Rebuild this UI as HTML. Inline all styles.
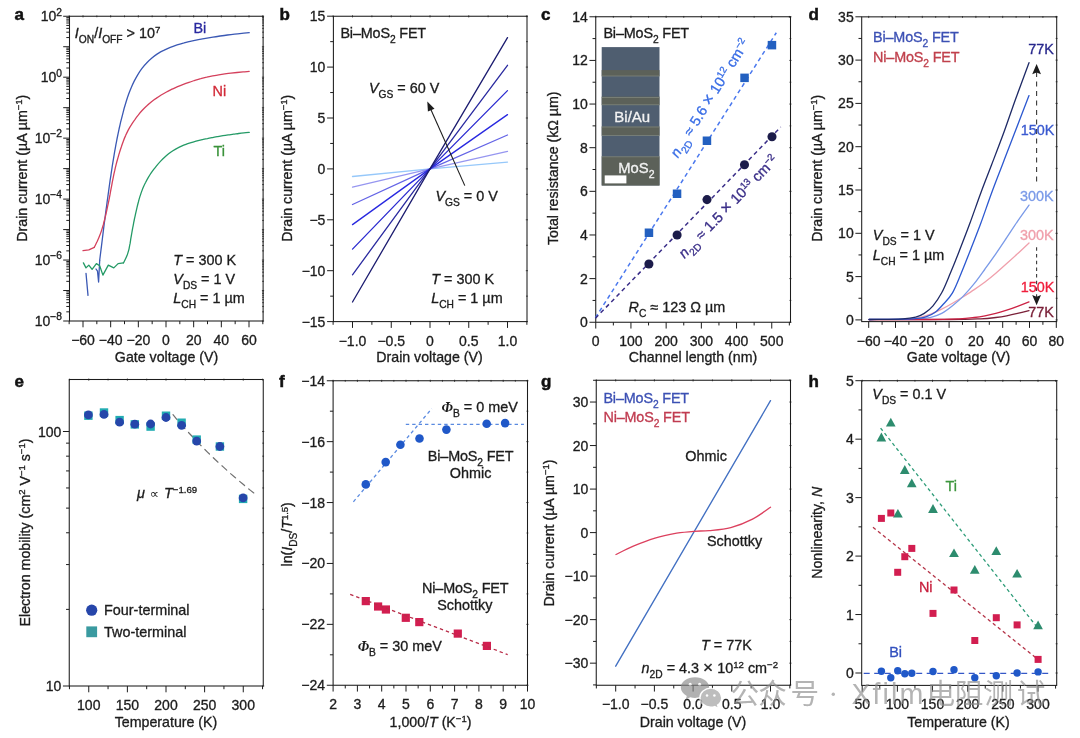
<!DOCTYPE html>
<html><head><meta charset="utf-8"><title>Figure</title>
<style>html,body{margin:0;padding:0;background:#fff;}svg{display:block;font-family:"Liberation Sans",sans-serif;will-change:transform;}</style>
</head><body>
<svg width="1080" height="738" viewBox="0 0 1080 738">
<rect width="1080" height="738" fill="#fff"/>
<g id="pa">
<rect x="69.50" y="16.25" width="193.60" height="304.75" fill="none" stroke="#1c1c1c" stroke-width="1.05"/>
<path d="M83.00 321.00v6.3M110.67 321.00v6.3M138.33 321.00v6.3M166.00 321.00v6.3M193.67 321.00v6.3M221.33 321.00v6.3M249.00 321.00v6.3M69.17 321.00v3.2M96.84 321.00v3.2M124.50 321.00v3.2M152.17 321.00v3.2M179.83 321.00v3.2M207.50 321.00v3.2M235.16 321.00v3.2M262.83 321.00v3.2" stroke="#1c1c1c" stroke-width="1" fill="none"/>
<path d="M83.00 15.25v2.2M110.67 15.25v2.2M138.33 15.25v2.2M166.00 15.25v2.2M193.67 15.25v2.2M221.33 15.25v2.2M249.00 15.25v2.2M69.17 15.45v1.8M96.84 15.45v1.8M124.50 15.45v1.8M152.17 15.45v1.8M179.83 15.45v1.8M207.50 15.45v1.8M235.16 15.45v1.8M262.83 15.45v1.8" stroke="#1c1c1c" stroke-width="0.75" fill="none"/>
<text x="83.00" y="345.00" font-size="14.0" text-anchor="middle" fill="#1c1c1c" stroke="#1c1c1c" stroke-width="0.32"><tspan>−60</tspan></text>
<text x="110.67" y="345.00" font-size="14.0" text-anchor="middle" fill="#1c1c1c" stroke="#1c1c1c" stroke-width="0.32"><tspan>−40</tspan></text>
<text x="138.33" y="345.00" font-size="14.0" text-anchor="middle" fill="#1c1c1c" stroke="#1c1c1c" stroke-width="0.32"><tspan>−20</tspan></text>
<text x="166.00" y="345.00" font-size="14.0" text-anchor="middle" fill="#1c1c1c" stroke="#1c1c1c" stroke-width="0.32"><tspan>0</tspan></text>
<text x="193.67" y="345.00" font-size="14.0" text-anchor="middle" fill="#1c1c1c" stroke="#1c1c1c" stroke-width="0.32"><tspan>20</tspan></text>
<text x="221.33" y="345.00" font-size="14.0" text-anchor="middle" fill="#1c1c1c" stroke="#1c1c1c" stroke-width="0.32"><tspan>40</tspan></text>
<text x="249.00" y="345.00" font-size="14.0" text-anchor="middle" fill="#1c1c1c" stroke="#1c1c1c" stroke-width="0.32"><tspan>60</tspan></text>
<path d="M69.50 16.25h-6.3M69.50 46.73h-6.3M69.50 77.20h-6.3M69.50 107.68h-6.3M69.50 138.15h-6.3M69.50 168.62h-6.3M69.50 199.10h-6.3M69.50 229.58h-6.3M69.50 260.05h-6.3M69.50 290.53h-6.3M69.50 321.00h-6.3M69.50 311.83h-3.2M69.50 306.46h-3.2M69.50 302.65h-3.2M69.50 299.70h-3.2M69.50 297.29h-3.2M69.50 295.25h-3.2M69.50 293.48h-3.2M69.50 291.92h-3.2M69.50 281.35h-3.2M69.50 275.98h-3.2M69.50 272.18h-3.2M69.50 269.22h-3.2M69.50 266.81h-3.2M69.50 264.77h-3.2M69.50 263.00h-3.2M69.50 261.44h-3.2M69.50 250.88h-3.2M69.50 245.51h-3.2M69.50 241.70h-3.2M69.50 238.75h-3.2M69.50 236.34h-3.2M69.50 234.30h-3.2M69.50 232.53h-3.2M69.50 230.97h-3.2M69.50 220.40h-3.2M69.50 215.03h-3.2M69.50 211.23h-3.2M69.50 208.27h-3.2M69.50 205.86h-3.2M69.50 203.82h-3.2M69.50 202.05h-3.2M69.50 200.49h-3.2M69.50 189.93h-3.2M69.50 184.56h-3.2M69.50 180.75h-3.2M69.50 177.80h-3.2M69.50 175.39h-3.2M69.50 173.35h-3.2M69.50 171.58h-3.2M69.50 170.02h-3.2M69.50 159.45h-3.2M69.50 154.08h-3.2M69.50 150.28h-3.2M69.50 147.32h-3.2M69.50 144.91h-3.2M69.50 142.87h-3.2M69.50 141.10h-3.2M69.50 139.54h-3.2M69.50 128.98h-3.2M69.50 123.61h-3.2M69.50 119.80h-3.2M69.50 116.85h-3.2M69.50 114.44h-3.2M69.50 112.40h-3.2M69.50 110.63h-3.2M69.50 109.07h-3.2M69.50 98.50h-3.2M69.50 93.13h-3.2M69.50 89.33h-3.2M69.50 86.37h-3.2M69.50 83.96h-3.2M69.50 81.92h-3.2M69.50 80.15h-3.2M69.50 78.59h-3.2M69.50 68.03h-3.2M69.50 62.66h-3.2M69.50 58.85h-3.2M69.50 55.90h-3.2M69.50 53.49h-3.2M69.50 51.45h-3.2M69.50 49.68h-3.2M69.50 48.12h-3.2M69.50 37.55h-3.2M69.50 32.18h-3.2M69.50 28.38h-3.2M69.50 25.42h-3.2M69.50 23.01h-3.2M69.50 20.97h-3.2M69.50 19.20h-3.2M69.50 17.64h-3.2" stroke="#1c1c1c" stroke-width="1" fill="none"/>
<path d="M261.90 16.25h2.2M261.90 46.73h2.2M261.90 77.20h2.2M261.90 107.68h2.2M261.90 138.15h2.2M261.90 168.62h2.2M261.90 199.10h2.2M261.90 229.58h2.2M261.90 260.05h2.2M261.90 290.53h2.2M261.90 321.00h2.2M262.10 311.83h1.8M262.10 306.46h1.8M262.10 302.65h1.8M262.10 299.70h1.8M262.10 297.29h1.8M262.10 295.25h1.8M262.10 293.48h1.8M262.10 291.92h1.8M262.10 281.35h1.8M262.10 275.98h1.8M262.10 272.18h1.8M262.10 269.22h1.8M262.10 266.81h1.8M262.10 264.77h1.8M262.10 263.00h1.8M262.10 261.44h1.8M262.10 250.88h1.8M262.10 245.51h1.8M262.10 241.70h1.8M262.10 238.75h1.8M262.10 236.34h1.8M262.10 234.30h1.8M262.10 232.53h1.8M262.10 230.97h1.8M262.10 220.40h1.8M262.10 215.03h1.8M262.10 211.23h1.8M262.10 208.27h1.8M262.10 205.86h1.8M262.10 203.82h1.8M262.10 202.05h1.8M262.10 200.49h1.8M262.10 189.93h1.8M262.10 184.56h1.8M262.10 180.75h1.8M262.10 177.80h1.8M262.10 175.39h1.8M262.10 173.35h1.8M262.10 171.58h1.8M262.10 170.02h1.8M262.10 159.45h1.8M262.10 154.08h1.8M262.10 150.28h1.8M262.10 147.32h1.8M262.10 144.91h1.8M262.10 142.87h1.8M262.10 141.10h1.8M262.10 139.54h1.8M262.10 128.98h1.8M262.10 123.61h1.8M262.10 119.80h1.8M262.10 116.85h1.8M262.10 114.44h1.8M262.10 112.40h1.8M262.10 110.63h1.8M262.10 109.07h1.8M262.10 98.50h1.8M262.10 93.13h1.8M262.10 89.33h1.8M262.10 86.37h1.8M262.10 83.96h1.8M262.10 81.92h1.8M262.10 80.15h1.8M262.10 78.59h1.8M262.10 68.03h1.8M262.10 62.66h1.8M262.10 58.85h1.8M262.10 55.90h1.8M262.10 53.49h1.8M262.10 51.45h1.8M262.10 49.68h1.8M262.10 48.12h1.8M262.10 37.55h1.8M262.10 32.18h1.8M262.10 28.38h1.8M262.10 25.42h1.8M262.10 23.01h1.8M262.10 20.97h1.8M262.10 19.20h1.8M262.10 17.64h1.8" stroke="#1c1c1c" stroke-width="0.75" fill="none"/>
<text x="62.00" y="20.95" font-size="14.0" text-anchor="end" fill="#1c1c1c" stroke="#1c1c1c" stroke-width="0.32"><tspan>10</tspan><tspan dy="-5.39" font-size="10.22">2</tspan></text>
<text x="62.00" y="81.90" font-size="14.0" text-anchor="end" fill="#1c1c1c" stroke="#1c1c1c" stroke-width="0.32"><tspan>10</tspan><tspan dy="-5.39" font-size="10.22">0</tspan></text>
<text x="62.00" y="142.85" font-size="14.0" text-anchor="end" fill="#1c1c1c" stroke="#1c1c1c" stroke-width="0.32"><tspan>10</tspan><tspan dy="-5.39" font-size="10.22">−2</tspan></text>
<text x="62.00" y="203.80" font-size="14.0" text-anchor="end" fill="#1c1c1c" stroke="#1c1c1c" stroke-width="0.32"><tspan>10</tspan><tspan dy="-5.39" font-size="10.22">−4</tspan></text>
<text x="62.00" y="264.75" font-size="14.0" text-anchor="end" fill="#1c1c1c" stroke="#1c1c1c" stroke-width="0.32"><tspan>10</tspan><tspan dy="-5.39" font-size="10.22">−6</tspan></text>
<text x="62.00" y="325.70" font-size="14.0" text-anchor="end" fill="#1c1c1c" stroke="#1c1c1c" stroke-width="0.32"><tspan>10</tspan><tspan dy="-5.39" font-size="10.22">−8</tspan></text>
<text x="166.50" y="361.80" font-size="14.2" text-anchor="middle" fill="#1c1c1c" stroke="#1c1c1c" stroke-width="0.32"><tspan>Gate voltage (V)</tspan></text>
<text x="27.20" y="168.20" font-size="14.2" text-anchor="middle" fill="#1c1c1c" stroke="#1c1c1c" stroke-width="0.32" transform="rotate(-90 27.20 168.20)"><tspan>Drain current (µA µm</tspan><tspan dy="-4.97" font-size="9.51">−1</tspan><tspan dy="4.97">)</tspan></text>
<text x="14.5" y="19.5" font-size="17" font-weight="bold" fill="#111" stroke="#111" stroke-width="0.5">a</text>
<path d="M86.0 273.3 L88.0 295.4" fill="none" stroke="#3a58b4" stroke-width="1.3" stroke-linejoin="round" stroke-linecap="round"/>
<path d="M96.0 269.0 L97.5 271.2 L98.6 282.0 L99.7 260.3" fill="none" stroke="#3a58b4" stroke-width="1.3" stroke-linejoin="round" stroke-linecap="round"/>
<path d="M99.7 260.3 C99.8 259.1 100.3 255.5 100.6 253.0 C100.9 250.6 101.2 248.2 101.5 245.8 C101.8 243.3 102.1 240.9 102.4 238.5 C102.7 236.1 103.0 233.6 103.3 231.2 C103.6 228.8 103.9 226.4 104.2 223.9 C104.5 221.5 104.9 219.1 105.2 216.7 C105.5 214.2 105.8 211.8 106.1 209.4 C106.5 207.0 106.8 204.6 107.1 202.1 C107.4 199.7 107.8 197.3 108.1 194.9 C108.4 192.5 108.8 190.0 109.1 187.6 C109.4 185.2 109.8 182.8 110.1 180.4 C110.5 178.0 110.9 175.5 111.2 173.1 C111.6 170.7 112.0 168.3 112.3 165.9 C112.7 163.5 113.1 161.1 113.5 158.6 C113.9 156.2 114.3 153.8 114.7 151.4 C115.2 149.0 115.6 146.6 116.0 144.2 C116.5 141.8 116.9 139.4 117.4 137.0 C117.9 134.6 118.4 132.2 118.9 129.8 C119.4 127.5 120.0 125.1 120.5 122.7 C121.1 120.3 121.7 117.9 122.3 115.6 C122.9 113.2 123.5 110.9 124.1 108.5 C124.8 106.2 125.5 103.8 126.2 101.5 C126.9 99.2 127.7 96.8 128.5 94.5 C129.3 92.3 130.2 90.0 131.2 87.7 C132.1 85.5 133.1 83.3 134.2 81.1 C135.3 79.0 136.5 76.8 137.7 74.8 C139.0 72.7 140.3 70.7 141.8 68.7 C143.2 66.8 144.7 64.9 146.4 63.2 C148.0 61.4 149.7 59.8 151.6 58.2 C153.4 56.7 155.4 55.2 157.4 53.9 C159.4 52.6 161.5 51.4 163.7 50.4 C165.8 49.3 168.0 48.3 170.3 47.4 C172.5 46.5 174.8 45.7 177.1 44.9 C179.4 44.2 181.8 43.5 184.1 42.9 C186.5 42.2 188.9 41.7 191.3 41.1 C193.6 40.6 196.0 40.1 198.4 39.6 C200.8 39.2 203.2 38.8 205.6 38.3 C208.0 37.9 210.4 37.5 212.9 37.1 C215.3 36.8 217.7 36.4 220.1 36.0 C222.5 35.7 224.9 35.4 227.4 35.0 C229.8 34.7 232.2 34.4 234.6 34.1 C237.1 33.9 239.5 33.6 241.9 33.3 C244.3 33.1 248.0 32.7 249.2 32.6" fill="none" stroke="#3a58b4" stroke-width="1.3" stroke-linejoin="round" stroke-linecap="round"/>
<path d="M94.3 247.3 C94.7 246.4 96.1 243.7 97.0 241.8 C97.8 240.0 98.7 238.2 99.4 236.3 C100.2 234.4 100.9 232.5 101.5 230.6 C102.2 228.6 102.7 226.7 103.3 224.7 C103.8 222.7 104.3 220.8 104.8 218.8 C105.3 216.8 105.8 214.8 106.2 212.8 C106.7 210.8 107.1 208.8 107.5 206.8 C107.9 204.8 108.4 202.8 108.8 200.8 C109.2 198.8 109.6 196.8 110.0 194.7 C110.3 192.7 110.7 190.7 111.1 188.7 C111.5 186.7 111.9 184.7 112.2 182.7 C112.6 180.7 113.0 178.7 113.4 176.7 C113.8 174.6 114.2 172.6 114.7 170.7 C115.1 168.7 115.6 166.7 116.1 164.7 C116.6 162.7 117.1 160.7 117.7 158.8 C118.3 156.8 118.8 154.8 119.4 152.9 C120.0 150.9 120.6 149.0 121.3 147.0 C121.9 145.1 122.6 143.2 123.3 141.2 C124.0 139.3 124.7 137.4 125.6 135.6 C126.4 133.7 127.3 131.9 128.2 130.1 C129.2 128.3 130.2 126.6 131.3 124.9 C132.4 123.1 133.5 121.4 134.7 119.8 C135.9 118.1 137.1 116.5 138.4 114.9 C139.6 113.3 140.9 111.8 142.3 110.3 C143.7 108.8 145.1 107.3 146.6 106.0 C148.1 104.6 149.6 103.3 151.2 102.0 C152.8 100.7 154.4 99.5 156.1 98.4 C157.8 97.2 159.5 96.1 161.2 95.0 C163.0 94.0 164.7 93.0 166.5 92.0 C168.3 91.0 170.2 90.1 172.0 89.2 C173.8 88.4 175.7 87.5 177.6 86.7 C179.5 85.9 181.4 85.1 183.3 84.4 C185.2 83.7 187.1 83.0 189.0 82.3 C190.9 81.6 192.9 81.0 194.8 80.4 C196.8 79.8 198.8 79.2 200.7 78.7 C202.7 78.1 204.7 77.6 206.7 77.2 C208.7 76.7 210.7 76.3 212.7 75.9 C214.7 75.5 216.7 75.1 218.7 74.8 C220.7 74.5 222.7 74.2 224.8 73.9 C226.8 73.6 228.8 73.3 230.9 73.1 C232.9 72.9 234.9 72.7 237.0 72.5 C239.0 72.3 241.0 72.1 243.1 71.9 C245.1 71.7 248.2 71.5 249.2 71.4" fill="none" stroke="#d4405c" stroke-width="1.3" stroke-linejoin="round" stroke-linecap="round"/>
<path d="M83.0 250.6 L88.8 249.9 L94.3 247.3" fill="none" stroke="#d4405c" stroke-width="1.3" stroke-linejoin="round" stroke-linecap="round"/>
<path d="M83.4 262.9 L86.0 267.9 L88.8 265.1 L92.1 269.4 L96.4 263.6 L99.7 265.8 L102.9 275.1 L108.3 265.1 L113.8 267.9 L118.1 263.6 L123.5 262.9" fill="none" stroke="#249a66" stroke-width="1.3" stroke-linejoin="round" stroke-linecap="round"/>
<path d="M123.5 262.9 C123.9 262.1 125.1 259.9 125.8 258.3 C126.5 256.8 127.2 255.2 127.7 253.6 C128.2 251.9 128.7 250.3 129.1 248.6 C129.4 246.9 129.7 245.1 130.1 243.4 C130.4 241.7 130.6 239.9 130.9 238.2 C131.2 236.5 131.5 234.7 131.8 233.0 C132.1 231.3 132.4 229.5 132.7 227.8 C133.1 226.1 133.4 224.3 133.7 222.6 C134.1 220.9 134.4 219.1 134.8 217.4 C135.2 215.7 135.5 214.0 135.9 212.3 C136.3 210.5 136.7 208.8 137.1 207.1 C137.5 205.4 137.9 203.7 138.4 202.0 C138.8 200.3 139.3 198.6 139.8 196.9 C140.4 195.2 140.9 193.6 141.5 191.9 C142.1 190.3 142.7 188.6 143.4 187.0 C144.1 185.4 144.9 183.8 145.7 182.3 C146.5 180.7 147.3 179.2 148.2 177.7 C149.1 176.2 150.0 174.7 151.0 173.2 C152.0 171.8 153.0 170.3 154.1 168.9 C155.2 167.5 156.3 166.2 157.4 164.8 C158.5 163.5 159.7 162.2 160.9 160.9 C162.1 159.6 163.3 158.4 164.6 157.2 C165.9 156.0 167.2 154.9 168.6 153.8 C170.0 152.7 171.4 151.7 172.9 150.7 C174.3 149.8 175.8 148.9 177.4 148.1 C178.9 147.3 180.5 146.5 182.1 145.8 C183.7 145.1 185.4 144.5 187.0 143.9 C188.7 143.3 190.3 142.8 192.0 142.3 C193.7 141.8 195.4 141.4 197.1 140.9 C198.8 140.5 200.5 140.1 202.2 139.7 C204.0 139.3 205.7 138.9 207.4 138.6 C209.1 138.2 210.9 137.9 212.6 137.6 C214.3 137.2 216.1 136.9 217.8 136.6 C219.5 136.3 221.3 136.0 223.0 135.7 C224.7 135.5 226.5 135.2 228.2 134.9 C230.0 134.7 231.7 134.4 233.5 134.2 C235.2 134.0 236.9 133.7 238.7 133.5 C240.4 133.3 242.2 133.1 243.9 132.9 C245.7 132.8 248.3 132.5 249.2 132.4" fill="none" stroke="#249a66" stroke-width="1.3" stroke-linejoin="round" stroke-linecap="round"/>
<text x="74.80" y="37.70" font-size="14.4" text-anchor="start" fill="#1c1c1c" stroke="#1c1c1c" stroke-width="0.32"><tspan font-style="italic">I</tspan><tspan dy="4.90" font-size="10.22">ON</tspan><tspan dy="-4.90">/</tspan><tspan font-style="italic">I</tspan><tspan dy="4.90" font-size="10.22">OFF</tspan><tspan dy="-4.90"> &gt; 10</tspan><tspan dy="-5.04" font-size="9.65">7</tspan></text>
<text x="193.50" y="32.60" font-size="14.4" text-anchor="start" fill="#2a2aa0" stroke="#2a2aa0" stroke-width="0.32"><tspan>Bi</tspan></text>
<text x="212.50" y="95.50" font-size="14.4" text-anchor="start" fill="#d22a38" stroke="#d22a38" stroke-width="0.32"><tspan>Ni</tspan></text>
<text x="213.50" y="155.50" font-size="14.4" text-anchor="start" fill="#3a923a" stroke="#3a923a" stroke-width="0.32"><tspan>Ti</tspan></text>
<text x="173.30" y="264.70" font-size="14.4" text-anchor="start" fill="#1c1c1c" stroke="#1c1c1c" stroke-width="0.32"><tspan font-style="italic">T</tspan><tspan> = 300 K</tspan></text>
<text x="173.30" y="283.70" font-size="14.4" text-anchor="start" fill="#1c1c1c" stroke="#1c1c1c" stroke-width="0.32"><tspan font-style="italic">V</tspan><tspan dy="4.90" font-size="10.22">DS</tspan><tspan dy="-4.90"> = 1 V</tspan></text>
<text x="173.30" y="303.20" font-size="14.4" text-anchor="start" fill="#1c1c1c" stroke="#1c1c1c" stroke-width="0.32"><tspan font-style="italic">L</tspan><tspan dy="4.90" font-size="10.22">CH</tspan><tspan dy="-4.90"> = 1 µm</tspan></text>
</g>
<g id="pb">
<rect x="333.40" y="16.25" width="193.60" height="305.35" fill="none" stroke="#1c1c1c" stroke-width="1.05"/>
<path d="M352.50 321.60v6.3M391.25 321.60v6.3M430.00 321.60v6.3M468.75 321.60v6.3M507.50 321.60v6.3M333.12 321.60v3.2M371.88 321.60v3.2M410.62 321.60v3.2M449.38 321.60v3.2M488.12 321.60v3.2M526.88 321.60v3.2" stroke="#1c1c1c" stroke-width="1" fill="none"/>
<path d="M352.50 15.25v2.2M391.25 15.25v2.2M430.00 15.25v2.2M468.75 15.25v2.2M507.50 15.25v2.2M333.12 15.45v1.8M371.88 15.45v1.8M410.62 15.45v1.8M449.38 15.45v1.8M488.12 15.45v1.8M526.88 15.45v1.8" stroke="#1c1c1c" stroke-width="0.75" fill="none"/>
<text x="352.50" y="345.60" font-size="14.0" text-anchor="middle" fill="#1c1c1c" stroke="#1c1c1c" stroke-width="0.32"><tspan>−1.0</tspan></text>
<text x="391.25" y="345.60" font-size="14.0" text-anchor="middle" fill="#1c1c1c" stroke="#1c1c1c" stroke-width="0.32"><tspan>−0.5</tspan></text>
<text x="430.00" y="345.60" font-size="14.0" text-anchor="middle" fill="#1c1c1c" stroke="#1c1c1c" stroke-width="0.32"><tspan>0</tspan></text>
<text x="468.75" y="345.60" font-size="14.0" text-anchor="middle" fill="#1c1c1c" stroke="#1c1c1c" stroke-width="0.32"><tspan>0.5</tspan></text>
<text x="507.50" y="345.60" font-size="14.0" text-anchor="middle" fill="#1c1c1c" stroke="#1c1c1c" stroke-width="0.32"><tspan>1.0</tspan></text>
<path d="M333.40 321.60h-6.3M333.40 270.70h-6.3M333.40 219.80h-6.3M333.40 168.90h-6.3M333.40 118.00h-6.3M333.40 67.10h-6.3M333.40 16.20h-6.3M333.40 296.15h-3.2M333.40 245.25h-3.2M333.40 194.35h-3.2M333.40 143.45h-3.2M333.40 92.55h-3.2M333.40 41.65h-3.2" stroke="#1c1c1c" stroke-width="1" fill="none"/>
<path d="M525.80 321.60h2.2M525.80 270.70h2.2M525.80 219.80h2.2M525.80 168.90h2.2M525.80 118.00h2.2M525.80 67.10h2.2M525.80 16.20h2.2M526.00 296.15h1.8M526.00 245.25h1.8M526.00 194.35h1.8M526.00 143.45h1.8M526.00 92.55h1.8M526.00 41.65h1.8" stroke="#1c1c1c" stroke-width="0.75" fill="none"/>
<text x="325.40" y="326.60" font-size="14.0" text-anchor="end" fill="#1c1c1c" stroke="#1c1c1c" stroke-width="0.32"><tspan>−15</tspan></text>
<text x="325.40" y="275.70" font-size="14.0" text-anchor="end" fill="#1c1c1c" stroke="#1c1c1c" stroke-width="0.32"><tspan>−10</tspan></text>
<text x="325.40" y="224.80" font-size="14.0" text-anchor="end" fill="#1c1c1c" stroke="#1c1c1c" stroke-width="0.32"><tspan>−5</tspan></text>
<text x="325.40" y="173.90" font-size="14.0" text-anchor="end" fill="#1c1c1c" stroke="#1c1c1c" stroke-width="0.32"><tspan>0</tspan></text>
<text x="325.40" y="123.00" font-size="14.0" text-anchor="end" fill="#1c1c1c" stroke="#1c1c1c" stroke-width="0.32"><tspan>5</tspan></text>
<text x="325.40" y="72.10" font-size="14.0" text-anchor="end" fill="#1c1c1c" stroke="#1c1c1c" stroke-width="0.32"><tspan>10</tspan></text>
<text x="325.40" y="21.20" font-size="14.0" text-anchor="end" fill="#1c1c1c" stroke="#1c1c1c" stroke-width="0.32"><tspan>15</tspan></text>
<text x="429.50" y="361.80" font-size="14.2" text-anchor="middle" fill="#1c1c1c" stroke="#1c1c1c" stroke-width="0.32"><tspan>Drain voltage (V)</tspan></text>
<text x="292.30" y="168.20" font-size="14.2" text-anchor="middle" fill="#1c1c1c" stroke="#1c1c1c" stroke-width="0.32" transform="rotate(-90 292.30 168.20)"><tspan>Drain current (µA µm</tspan><tspan dy="-4.97" font-size="9.51">−1</tspan><tspan dy="4.97">)</tspan></text>
<text x="279.5" y="19.5" font-size="17" font-weight="bold" fill="#111" stroke="#111" stroke-width="0.5">b</text>
<path d="M352.5 176.5 L430.0 168.9 L507.5 162.1" fill="none" stroke="#96c8fa" stroke-width="1.3" stroke-linejoin="round" stroke-linecap="round"/>
<path d="M352.5 187.2 L430.0 168.9 L507.5 151.3" fill="none" stroke="#9696f0" stroke-width="1.3" stroke-linejoin="round" stroke-linecap="round"/>
<path d="M352.5 204.5 L430.0 168.9 L507.5 135.0" fill="none" stroke="#6464e6" stroke-width="1.3" stroke-linejoin="round" stroke-linecap="round"/>
<path d="M352.5 224.6 L430.0 168.9 L507.5 114.6" fill="none" stroke="#2828e0" stroke-width="1.3" stroke-linejoin="round" stroke-linecap="round"/>
<path d="M352.5 249.1 L430.0 168.9 L507.5 90.6" fill="none" stroke="#2a2ad0" stroke-width="1.3" stroke-linejoin="round" stroke-linecap="round"/>
<path d="M352.5 274.8 L430.0 168.9 L507.5 65.3" fill="none" stroke="#2a2aa0" stroke-width="1.3" stroke-linejoin="round" stroke-linecap="round"/>
<path d="M352.5 302.0 L430.0 168.9 L507.5 37.6" fill="none" stroke="#1c1c70" stroke-width="1.3" stroke-linejoin="round" stroke-linecap="round"/>
<line x1="464.80" y1="185.60" x2="429.18" y2="105.70" stroke="#1c1c1c" stroke-width="1.1"/>
<path d="M427.3 101.5 L434.5 108.7 L427.9 111.6 Z" fill="#1c1c1c"/>
<text x="340.40" y="37.70" font-size="14.4" text-anchor="start" fill="#1c1c1c" stroke="#1c1c1c" stroke-width="0.32" letter-spacing="-0.15"><tspan>Bi–MoS</tspan><tspan dy="4.90" font-size="10.22">2</tspan><tspan dy="-4.90"> FET</tspan></text>
<text x="369.00" y="93.40" font-size="14.4" text-anchor="start" fill="#1c1c1c" stroke="#1c1c1c" stroke-width="0.32"><tspan font-style="italic">V</tspan><tspan dy="4.90" font-size="10.22">GS</tspan><tspan dy="-4.90"> = 60 V</tspan></text>
<text x="435.50" y="200.80" font-size="14.4" text-anchor="start" fill="#1c1c1c" stroke="#1c1c1c" stroke-width="0.32"><tspan font-style="italic">V</tspan><tspan dy="4.90" font-size="10.22">GS</tspan><tspan dy="-4.90"> = 0 V</tspan></text>
<text x="431.20" y="283.70" font-size="14.4" text-anchor="start" fill="#1c1c1c" stroke="#1c1c1c" stroke-width="0.32"><tspan font-style="italic">T</tspan><tspan> = 300 K</tspan></text>
<text x="431.20" y="303.20" font-size="14.4" text-anchor="start" fill="#1c1c1c" stroke="#1c1c1c" stroke-width="0.32"><tspan font-style="italic">L</tspan><tspan dy="4.90" font-size="10.22">CH</tspan><tspan dy="-4.90"> = 1 µm</tspan></text>
</g>
<g id="pc">
<rect x="595.75" y="16.75" width="194.75" height="305.50" fill="none" stroke="#1c1c1c" stroke-width="1.05"/>
<path d="M595.75 322.25v6.3M630.95 322.25v6.3M666.15 322.25v6.3M701.35 322.25v6.3M736.55 322.25v6.3M771.75 322.25v6.3M613.35 322.25v3.2M648.55 322.25v3.2M683.75 322.25v3.2M718.95 322.25v3.2M754.15 322.25v3.2M789.35 322.25v3.2" stroke="#1c1c1c" stroke-width="1" fill="none"/>
<path d="M595.75 15.75v2.2M630.95 15.75v2.2M666.15 15.75v2.2M701.35 15.75v2.2M736.55 15.75v2.2M771.75 15.75v2.2M613.35 15.95v1.8M648.55 15.95v1.8M683.75 15.95v1.8M718.95 15.95v1.8M754.15 15.95v1.8M789.35 15.95v1.8" stroke="#1c1c1c" stroke-width="0.75" fill="none"/>
<text x="595.75" y="346.25" font-size="14.0" text-anchor="middle" fill="#1c1c1c" stroke="#1c1c1c" stroke-width="0.32"><tspan>0</tspan></text>
<text x="630.95" y="346.25" font-size="14.0" text-anchor="middle" fill="#1c1c1c" stroke="#1c1c1c" stroke-width="0.32"><tspan>100</tspan></text>
<text x="666.15" y="346.25" font-size="14.0" text-anchor="middle" fill="#1c1c1c" stroke="#1c1c1c" stroke-width="0.32"><tspan>200</tspan></text>
<text x="701.35" y="346.25" font-size="14.0" text-anchor="middle" fill="#1c1c1c" stroke="#1c1c1c" stroke-width="0.32"><tspan>300</tspan></text>
<text x="736.55" y="346.25" font-size="14.0" text-anchor="middle" fill="#1c1c1c" stroke="#1c1c1c" stroke-width="0.32"><tspan>400</tspan></text>
<text x="771.75" y="346.25" font-size="14.0" text-anchor="middle" fill="#1c1c1c" stroke="#1c1c1c" stroke-width="0.32"><tspan>500</tspan></text>
<path d="M595.75 322.25h-6.3M595.75 278.61h-6.3M595.75 234.97h-6.3M595.75 191.33h-6.3M595.75 147.69h-6.3M595.75 104.05h-6.3M595.75 60.41h-6.3M595.75 16.77h-6.3M595.75 300.43h-3.2M595.75 256.79h-3.2M595.75 213.15h-3.2M595.75 169.51h-3.2M595.75 125.87h-3.2M595.75 82.23h-3.2M595.75 38.59h-3.2" stroke="#1c1c1c" stroke-width="1" fill="none"/>
<path d="M789.30 322.25h2.2M789.30 278.61h2.2M789.30 234.97h2.2M789.30 191.33h2.2M789.30 147.69h2.2M789.30 104.05h2.2M789.30 60.41h2.2M789.30 16.77h2.2M789.50 300.43h1.8M789.50 256.79h1.8M789.50 213.15h1.8M789.50 169.51h1.8M789.50 125.87h1.8M789.50 82.23h1.8M789.50 38.59h1.8" stroke="#1c1c1c" stroke-width="0.75" fill="none"/>
<text x="587.75" y="327.25" font-size="14.0" text-anchor="end" fill="#1c1c1c" stroke="#1c1c1c" stroke-width="0.32"><tspan>0</tspan></text>
<text x="587.75" y="283.61" font-size="14.0" text-anchor="end" fill="#1c1c1c" stroke="#1c1c1c" stroke-width="0.32"><tspan>2</tspan></text>
<text x="587.75" y="239.97" font-size="14.0" text-anchor="end" fill="#1c1c1c" stroke="#1c1c1c" stroke-width="0.32"><tspan>4</tspan></text>
<text x="587.75" y="196.33" font-size="14.0" text-anchor="end" fill="#1c1c1c" stroke="#1c1c1c" stroke-width="0.32"><tspan>6</tspan></text>
<text x="587.75" y="152.69" font-size="14.0" text-anchor="end" fill="#1c1c1c" stroke="#1c1c1c" stroke-width="0.32"><tspan>8</tspan></text>
<text x="587.75" y="109.05" font-size="14.0" text-anchor="end" fill="#1c1c1c" stroke="#1c1c1c" stroke-width="0.32"><tspan>10</tspan></text>
<text x="587.75" y="65.41" font-size="14.0" text-anchor="end" fill="#1c1c1c" stroke="#1c1c1c" stroke-width="0.32"><tspan>12</tspan></text>
<text x="587.75" y="21.77" font-size="14.0" text-anchor="end" fill="#1c1c1c" stroke="#1c1c1c" stroke-width="0.32"><tspan>14</tspan></text>
<text x="693.00" y="361.80" font-size="14.2" text-anchor="middle" fill="#1c1c1c" stroke="#1c1c1c" stroke-width="0.32"><tspan>Channel length (nm)</tspan></text>
<text x="558.20" y="168.20" font-size="14.2" text-anchor="middle" fill="#1c1c1c" stroke="#1c1c1c" stroke-width="0.32" transform="rotate(-90 558.20 168.20)"><tspan>Total resistance (kΩ µm)</tspan></text>
<text x="541.0" y="19.5" font-size="17" font-weight="bold" fill="#111" stroke="#111" stroke-width="0.5">c</text>
<g>
<rect x="601.7" y="47.1" width="57.8" height="138.4" fill="#4f5e70"/>
<rect x="601.7" y="70.1" width="57.8" height="6.1" fill="#5c6159"/>
<rect x="601.7" y="96.6" width="57.8" height="8.5" fill="#5c6159"/>
<rect x="601.7" y="126.5" width="57.8" height="9.1" fill="#5c6159"/>
<rect x="601.7" y="156.4" width="57.8" height="29.1" fill="#5c6159"/>
<rect x="601.7" y="75.6" width="57.8" height="0.8" fill="#8f958c" opacity="0.7"/>
<rect x="601.7" y="97.2" width="57.8" height="0.8" fill="#8f958c" opacity="0.7"/>
<rect x="601.7" y="104.4" width="57.8" height="0.8" fill="#8f958c" opacity="0.7"/>
<rect x="601.7" y="126.6" width="57.8" height="0.8" fill="#8f958c" opacity="0.7"/>
<rect x="601.7" y="135.0" width="57.8" height="0.8" fill="#8f958c" opacity="0.7"/>
<rect x="601.7" y="156.4" width="57.8" height="0.8" fill="#8f958c" opacity="0.7"/>
<rect x="604.7" y="175.4" width="21.7" height="8.0" fill="#ffffff"/>
<text x="614.30" y="121.60" font-size="15.0" text-anchor="start" fill="#f2f2f2" stroke="#f2f2f2" stroke-width="0.32"><tspan>Bi/Au</tspan></text>
<text x="618.20" y="172.60" font-size="14.8" text-anchor="start" fill="#f2f2f2" stroke="#f2f2f2" stroke-width="0.32"><tspan>MoS</tspan><tspan dy="5.03" font-size="10.51">2</tspan></text>
</g>
<line x1="595.40" y1="317.80" x2="776.30" y2="32.75" stroke="#4a78ee" stroke-width="1.5" stroke-dasharray="4.2 3.4"/>
<line x1="595.40" y1="318.30" x2="780.70" y2="127.00" stroke="#3a2e88" stroke-width="1.5" stroke-dasharray="4.2 3.4"/>
<rect x="644.7" y="228.5" width="8.5" height="8.5" fill="#2360c0"/>
<rect x="672.8" y="189.5" width="8.5" height="8.5" fill="#2360c0"/>
<rect x="702.7" y="136.5" width="8.5" height="8.5" fill="#2360c0"/>
<rect x="740.3" y="73.6" width="8.5" height="8.5" fill="#2360c0"/>
<rect x="767.7" y="40.9" width="8.5" height="8.5" fill="#2360c0"/>
<circle cx="648.9" cy="264.0" r="4.55" fill="#1c1c4a"/>
<circle cx="677.1" cy="235.0" r="4.55" fill="#1c1c4a"/>
<circle cx="707.0" cy="199.6" r="4.55" fill="#1c1c4a"/>
<circle cx="744.5" cy="164.7" r="4.55" fill="#1c1c4a"/>
<circle cx="772.0" cy="136.8" r="4.55" fill="#1c1c4a"/>
<text x="678.00" y="158.50" font-size="14.4" text-anchor="start" fill="#3a6ee6" stroke="#3a6ee6" stroke-width="0.32" transform="rotate(-58.2 678.00 158.50)"><tspan font-style="italic">n</tspan><tspan dy="4.90" font-size="10.22">2D</tspan><tspan dy="-4.90"> ≈ 5.6 </tspan><tspan font-size="17.28">×</tspan><tspan> 10</tspan><tspan dy="-5.04" font-size="9.65">12</tspan><tspan dy="5.04"> cm</tspan><tspan dy="-5.04" font-size="9.65">−2</tspan></text>
<text x="684.50" y="259.00" font-size="14.4" text-anchor="start" fill="#3a2e88" stroke="#3a2e88" stroke-width="0.32" transform="rotate(-46.2 684.50 259.00)"><tspan font-style="italic">n</tspan><tspan dy="4.90" font-size="10.22">2D</tspan><tspan dy="-4.90"> ≈ 1.5 </tspan><tspan font-size="17.28">×</tspan><tspan> 10</tspan><tspan dy="-5.04" font-size="9.65">13</tspan><tspan dy="5.04"> cm</tspan><tspan dy="-5.04" font-size="9.65">−2</tspan></text>
<text x="603.40" y="37.70" font-size="14.4" text-anchor="start" fill="#1c1c1c" stroke="#1c1c1c" stroke-width="0.32" letter-spacing="-0.15"><tspan>Bi–MoS</tspan><tspan dy="4.90" font-size="10.22">2</tspan><tspan dy="-4.90"> FET</tspan></text>
<text x="628.60" y="312.30" font-size="14.4" text-anchor="start" fill="#1c1c1c" stroke="#1c1c1c" stroke-width="0.32"><tspan font-style="italic">R</tspan><tspan dy="4.90" font-size="10.22">C</tspan><tspan dy="-4.90"> ≈ 123 Ω µm</tspan></text>
</g>
<g id="pd">
<rect x="861.70" y="16.85" width="195.00" height="304.75" fill="none" stroke="#1c1c1c" stroke-width="1.05"/>
<path d="M868.70 321.60v6.3M895.50 321.60v6.3M922.30 321.60v6.3M949.10 321.60v6.3M975.90 321.60v6.3M1002.70 321.60v6.3M1029.50 321.60v6.3M1056.30 321.60v6.3M882.10 321.60v3.2M908.90 321.60v3.2M935.70 321.60v3.2M962.50 321.60v3.2M989.30 321.60v3.2M1016.10 321.60v3.2M1042.90 321.60v3.2" stroke="#1c1c1c" stroke-width="1" fill="none"/>
<path d="M868.70 15.85v2.2M895.50 15.85v2.2M922.30 15.85v2.2M949.10 15.85v2.2M975.90 15.85v2.2M1002.70 15.85v2.2M1029.50 15.85v2.2M1056.30 15.85v2.2M882.10 16.05v1.8M908.90 16.05v1.8M935.70 16.05v1.8M962.50 16.05v1.8M989.30 16.05v1.8M1016.10 16.05v1.8M1042.90 16.05v1.8" stroke="#1c1c1c" stroke-width="0.75" fill="none"/>
<text x="868.70" y="345.60" font-size="14.0" text-anchor="middle" fill="#1c1c1c" stroke="#1c1c1c" stroke-width="0.32"><tspan>−60</tspan></text>
<text x="895.50" y="345.60" font-size="14.0" text-anchor="middle" fill="#1c1c1c" stroke="#1c1c1c" stroke-width="0.32"><tspan>−40</tspan></text>
<text x="922.30" y="345.60" font-size="14.0" text-anchor="middle" fill="#1c1c1c" stroke="#1c1c1c" stroke-width="0.32"><tspan>−20</tspan></text>
<text x="949.10" y="345.60" font-size="14.0" text-anchor="middle" fill="#1c1c1c" stroke="#1c1c1c" stroke-width="0.32"><tspan>0</tspan></text>
<text x="975.90" y="345.60" font-size="14.0" text-anchor="middle" fill="#1c1c1c" stroke="#1c1c1c" stroke-width="0.32"><tspan>20</tspan></text>
<text x="1002.70" y="345.60" font-size="14.0" text-anchor="middle" fill="#1c1c1c" stroke="#1c1c1c" stroke-width="0.32"><tspan>40</tspan></text>
<text x="1029.50" y="345.60" font-size="14.0" text-anchor="middle" fill="#1c1c1c" stroke="#1c1c1c" stroke-width="0.32"><tspan>60</tspan></text>
<text x="1056.30" y="345.60" font-size="14.0" text-anchor="middle" fill="#1c1c1c" stroke="#1c1c1c" stroke-width="0.32"><tspan>80</tspan></text>
<path d="M861.70 319.90h-6.3M861.70 276.60h-6.3M861.70 233.30h-6.3M861.70 190.00h-6.3M861.70 146.70h-6.3M861.70 103.40h-6.3M861.70 60.10h-6.3M861.70 16.80h-6.3M861.70 298.25h-3.2M861.70 254.95h-3.2M861.70 211.65h-3.2M861.70 168.35h-3.2M861.70 125.05h-3.2M861.70 81.75h-3.2M861.70 38.45h-3.2" stroke="#1c1c1c" stroke-width="1" fill="none"/>
<path d="M1055.50 319.90h2.2M1055.50 276.60h2.2M1055.50 233.30h2.2M1055.50 190.00h2.2M1055.50 146.70h2.2M1055.50 103.40h2.2M1055.50 60.10h2.2M1055.50 16.80h2.2M1055.70 298.25h1.8M1055.70 254.95h1.8M1055.70 211.65h1.8M1055.70 168.35h1.8M1055.70 125.05h1.8M1055.70 81.75h1.8M1055.70 38.45h1.8" stroke="#1c1c1c" stroke-width="0.75" fill="none"/>
<text x="853.70" y="324.90" font-size="14.0" text-anchor="end" fill="#1c1c1c" stroke="#1c1c1c" stroke-width="0.32"><tspan>0</tspan></text>
<text x="853.70" y="281.60" font-size="14.0" text-anchor="end" fill="#1c1c1c" stroke="#1c1c1c" stroke-width="0.32"><tspan>5</tspan></text>
<text x="853.70" y="238.30" font-size="14.0" text-anchor="end" fill="#1c1c1c" stroke="#1c1c1c" stroke-width="0.32"><tspan>10</tspan></text>
<text x="853.70" y="195.00" font-size="14.0" text-anchor="end" fill="#1c1c1c" stroke="#1c1c1c" stroke-width="0.32"><tspan>15</tspan></text>
<text x="853.70" y="151.70" font-size="14.0" text-anchor="end" fill="#1c1c1c" stroke="#1c1c1c" stroke-width="0.32"><tspan>20</tspan></text>
<text x="853.70" y="108.40" font-size="14.0" text-anchor="end" fill="#1c1c1c" stroke="#1c1c1c" stroke-width="0.32"><tspan>25</tspan></text>
<text x="853.70" y="65.10" font-size="14.0" text-anchor="end" fill="#1c1c1c" stroke="#1c1c1c" stroke-width="0.32"><tspan>30</tspan></text>
<text x="853.70" y="21.80" font-size="14.0" text-anchor="end" fill="#1c1c1c" stroke="#1c1c1c" stroke-width="0.32"><tspan>35</tspan></text>
<text x="958.50" y="361.80" font-size="14.2" text-anchor="middle" fill="#1c1c1c" stroke="#1c1c1c" stroke-width="0.32"><tspan>Gate voltage (V)</tspan></text>
<text x="822.30" y="168.20" font-size="14.2" text-anchor="middle" fill="#1c1c1c" stroke="#1c1c1c" stroke-width="0.32" transform="rotate(-90 822.30 168.20)"><tspan>Drain current (µA µm</tspan><tspan dy="-4.97" font-size="9.51">−1</tspan><tspan dy="4.97">)</tspan></text>
<text x="808.5" y="19.5" font-size="17" font-weight="bold" fill="#111" stroke="#111" stroke-width="0.5">d</text>
<path d="M869.1 319.5 C875.4 319.4 898.5 319.5 907.0 319.1 C915.5 318.7 916.0 318.1 920.0 317.3 C924.0 316.5 927.2 315.5 930.8 314.1 C934.4 312.7 938.1 310.9 941.7 309.1 C945.3 307.3 948.9 305.3 952.5 303.2 C956.1 301.1 959.7 299.0 963.3 296.7 C966.9 294.4 970.6 292.1 974.2 289.6 C977.8 287.2 981.4 284.7 985.0 282.0 C988.6 279.3 992.2 276.4 995.8 273.3 C999.4 270.2 1003.1 266.9 1006.7 263.6 C1010.3 260.4 1013.8 257.2 1017.5 253.8 C1021.2 250.4 1027.1 244.8 1029.0 243.0" fill="none" stroke="#f0a0ac" stroke-width="1.3" stroke-linejoin="round" stroke-linecap="round"/>
<path d="M869.1 319.5 C876.9 319.4 905.4 319.4 915.7 319.0 C926.0 318.6 926.5 318.2 930.8 317.3 C935.1 316.4 938.1 315.3 941.7 313.4 C945.3 311.5 948.9 308.7 952.5 305.8 C956.1 302.9 959.7 299.8 963.3 296.1 C966.9 292.4 970.6 288.2 974.2 283.7 C977.8 279.2 981.4 274.0 985.0 269.0 C988.6 264.0 992.2 259.0 995.8 253.8 C999.4 248.6 1003.1 243.0 1006.7 237.6 C1010.3 232.2 1013.8 226.7 1017.5 221.3 C1021.2 215.9 1027.1 207.8 1029.0 205.1" fill="none" stroke="#7a9ae8" stroke-width="1.3" stroke-linejoin="round" stroke-linecap="round"/>
<path d="M869.1 319.6 C882.6 319.6 931.4 319.6 950.0 319.5 C968.6 319.4 973.1 319.1 980.7 318.8 C988.3 318.5 991.5 318.0 995.8 317.5 C1000.1 317.0 1003.1 316.5 1006.7 315.8 C1010.3 315.1 1013.8 314.3 1017.5 313.4 C1021.2 312.5 1027.1 311.1 1029.0 310.6" fill="none" stroke="#7a2038" stroke-width="1.3" stroke-linejoin="round" stroke-linecap="round"/>
<path d="M869.1 319.6 C879.2 319.6 915.0 319.6 930.0 319.5 C945.0 319.4 951.6 319.1 959.0 318.8 C966.4 318.5 969.9 318.0 974.2 317.5 C978.5 317.0 981.4 316.5 985.0 315.8 C988.6 315.1 992.2 314.3 995.8 313.4 C999.4 312.5 1003.1 311.4 1006.7 310.2 C1010.3 309.0 1013.8 307.7 1017.5 306.3 C1021.2 304.9 1027.1 302.6 1029.0 301.9" fill="none" stroke="#cc2244" stroke-width="1.3" stroke-linejoin="round" stroke-linecap="round"/>
<path d="M869.1 319.5 C876.5 319.4 903.9 319.3 913.5 318.8 C923.1 318.3 922.9 317.8 926.5 316.7 C930.1 315.6 932.5 314.3 935.2 312.3 C937.9 310.3 939.9 308.1 942.8 304.8 C945.7 301.6 949.4 298.1 952.5 292.8 C955.6 287.6 958.3 280.2 961.2 273.3 C964.1 266.4 966.5 260.0 969.8 251.7 C973.0 243.4 977.1 233.2 980.7 223.5 C984.3 213.8 987.9 202.9 991.5 193.2 C995.1 183.4 998.5 174.8 1002.3 165.0 C1006.0 155.2 1009.5 146.1 1014.0 134.5 C1018.5 122.9 1026.5 102.1 1029.0 95.6" fill="none" stroke="#2c58d0" stroke-width="1.3" stroke-linejoin="round" stroke-linecap="round"/>
<path d="M869.1 319.5 C874.7 319.4 894.9 319.2 902.7 318.8 C910.5 318.4 912.1 318.0 915.7 317.1 C919.3 316.2 921.4 315.3 924.3 313.4 C927.2 311.5 930.1 309.2 933.0 305.8 C935.9 302.4 938.8 298.2 941.7 292.8 C944.6 287.4 947.4 280.2 950.3 273.3 C953.2 266.4 955.8 260.0 959.0 251.7 C962.2 243.4 966.2 233.2 969.8 223.5 C973.4 213.8 977.1 202.9 980.7 193.2 C984.3 183.4 987.6 175.2 991.5 165.0 C995.4 154.8 999.9 143.2 1004.0 132.0 C1008.1 120.8 1011.8 109.5 1016.0 98.0 C1020.2 86.5 1026.8 68.6 1029.0 62.7" fill="none" stroke="#1e2a66" stroke-width="1.3" stroke-linejoin="round" stroke-linecap="round"/>
<line x1="1036.60" y1="72.00" x2="1036.60" y2="182.30" stroke="#3a3a3a" stroke-width="1.1" stroke-dasharray="5 4.5"/>
<line x1="1036.60" y1="247.30" x2="1036.60" y2="297.50" stroke="#3a3a3a" stroke-width="1.1" stroke-dasharray="3.5 3.2"/>
<path d="M1036.6 64.0 L1032.2 74.2 L1036.6 72.4 L1041.0 74.2 Z" fill="#1c1c1c"/>
<path d="M1036.6 305.2 L1032.2 295.0 L1036.6 296.8 L1041.0 295.0 Z" fill="#1c1c1c"/>
<text x="873.00" y="42.10" font-size="14.4" text-anchor="start" fill="#3c50b4" stroke="#3c50b4" stroke-width="0.32" letter-spacing="-0.15"><tspan>Bi–MoS</tspan><tspan dy="4.90" font-size="10.22">2</tspan><tspan dy="-4.90"> FET</tspan></text>
<text x="873.00" y="62.00" font-size="14.4" text-anchor="start" fill="#c0404c" stroke="#c0404c" stroke-width="0.32" letter-spacing="-0.15"><tspan>Ni–MoS</tspan><tspan dy="4.90" font-size="10.22">2</tspan><tspan dy="-4.90"> FET</tspan></text>
<text x="1028.30" y="54.40" font-size="14.4" text-anchor="start" fill="#28288c" stroke="#28288c" stroke-width="0.32"><tspan>77K</tspan></text>
<text x="1020.80" y="135.20" font-size="14.4" text-anchor="start" fill="#3a5ad0" stroke="#3a5ad0" stroke-width="0.32"><tspan>150K</tspan></text>
<text x="1020.10" y="200.80" font-size="14.4" text-anchor="start" fill="#7a9ae8" stroke="#7a9ae8" stroke-width="0.32"><tspan>300K</tspan></text>
<text x="1020.10" y="240.40" font-size="14.4" text-anchor="start" fill="#f0a0ac" stroke="#f0a0ac" stroke-width="0.32"><tspan>300K</tspan></text>
<text x="1020.80" y="292.40" font-size="14.4" text-anchor="start" fill="#f01e3c" stroke="#f01e3c" stroke-width="0.32"><tspan>150K</tspan></text>
<text x="1028.30" y="317.30" font-size="14.4" text-anchor="start" fill="#7a2038" stroke="#7a2038" stroke-width="0.32"><tspan>77K</tspan></text>
<text x="872.80" y="240.40" font-size="14.4" text-anchor="start" fill="#1c1c1c" stroke="#1c1c1c" stroke-width="0.32"><tspan font-style="italic">V</tspan><tspan dy="4.90" font-size="10.22">DS</tspan><tspan dy="-4.90"> = 1 V</tspan></text>
<text x="872.80" y="259.90" font-size="14.4" text-anchor="start" fill="#1c1c1c" stroke="#1c1c1c" stroke-width="0.32"><tspan font-style="italic">L</tspan><tspan dy="4.90" font-size="10.22">CH</tspan><tspan dy="-4.90"> = 1 µm</tspan></text>
</g>
<g id="pe">
<rect x="69.25" y="379.50" width="194.00" height="306.50" fill="none" stroke="#1c1c1c" stroke-width="1.05"/>
<path d="M88.75 686.00v6.3M127.38 686.00v6.3M166.00 686.00v6.3M204.62 686.00v6.3M243.25 686.00v6.3M69.44 686.00v3.2M108.06 686.00v3.2M146.69 686.00v3.2M185.31 686.00v3.2M223.94 686.00v3.2M262.56 686.00v3.2" stroke="#1c1c1c" stroke-width="1" fill="none"/>
<path d="M88.75 378.50v2.2M127.38 378.50v2.2M166.00 378.50v2.2M204.62 378.50v2.2M243.25 378.50v2.2M69.44 378.70v1.8M108.06 378.70v1.8M146.69 378.70v1.8M185.31 378.70v1.8M223.94 378.70v1.8M262.56 378.70v1.8" stroke="#1c1c1c" stroke-width="0.75" fill="none"/>
<text x="88.75" y="710.00" font-size="14.0" text-anchor="middle" fill="#1c1c1c" stroke="#1c1c1c" stroke-width="0.32"><tspan>100</tspan></text>
<text x="127.38" y="710.00" font-size="14.0" text-anchor="middle" fill="#1c1c1c" stroke="#1c1c1c" stroke-width="0.32"><tspan>150</tspan></text>
<text x="166.00" y="710.00" font-size="14.0" text-anchor="middle" fill="#1c1c1c" stroke="#1c1c1c" stroke-width="0.32"><tspan>200</tspan></text>
<text x="204.62" y="710.00" font-size="14.0" text-anchor="middle" fill="#1c1c1c" stroke="#1c1c1c" stroke-width="0.32"><tspan>250</tspan></text>
<text x="243.25" y="710.00" font-size="14.0" text-anchor="middle" fill="#1c1c1c" stroke="#1c1c1c" stroke-width="0.32"><tspan>300</tspan></text>
<path d="M69.25 431.50h-6.3M69.25 686.00h-6.3M69.25 609.39h-3.2M69.25 564.57h-3.2M69.25 532.78h-3.2M69.25 508.11h-3.2M69.25 487.96h-3.2M69.25 470.92h-3.2M69.25 456.16h-3.2M69.25 443.15h-3.2" stroke="#1c1c1c" stroke-width="1" fill="none"/>
<path d="M262.05 431.50h2.2M262.05 686.00h2.2M262.25 609.39h1.8M262.25 564.57h1.8M262.25 532.78h1.8M262.25 508.11h1.8M262.25 487.96h1.8M262.25 470.92h1.8M262.25 456.16h1.8M262.25 443.15h1.8" stroke="#1c1c1c" stroke-width="0.75" fill="none"/>
<text x="61.25" y="436.50" font-size="14.0" text-anchor="end" fill="#1c1c1c" stroke="#1c1c1c" stroke-width="0.32"><tspan>100</tspan></text>
<text x="61.25" y="691.00" font-size="14.0" text-anchor="end" fill="#1c1c1c" stroke="#1c1c1c" stroke-width="0.32"><tspan>10</tspan></text>
<text x="166.00" y="726.50" font-size="14.2" text-anchor="middle" fill="#1c1c1c" stroke="#1c1c1c" stroke-width="0.32"><tspan>Temperature (K)</tspan></text>
<text x="29.50" y="532.50" font-size="14.2" text-anchor="middle" fill="#1c1c1c" stroke="#1c1c1c" stroke-width="0.32" transform="rotate(-90 29.50 532.50)"><tspan>Electron mobility (cm</tspan><tspan dy="-4.97" font-size="9.51">2</tspan><tspan dy="4.97"> V</tspan><tspan dy="-4.97" font-size="9.51">−1</tspan><tspan dy="4.97"> s</tspan><tspan dy="-4.97" font-size="9.51">−1</tspan><tspan dy="4.97">)</tspan></text>
<text x="14.5" y="386.5" font-size="17" font-weight="bold" fill="#111" stroke="#111" stroke-width="0.5">e</text>
<path d="M173.0 414.7 L176.8 419.3 L180.7 423.7 L184.5 428.1 L188.4 432.4 L192.3 436.5 L196.1 440.6 L200.0 444.6 L203.9 448.5 L207.7 452.3 L211.6 456.1 L215.4 459.8 L219.3 463.4 L223.2 466.9 L227.0 470.4 L230.9 473.9 L234.8 477.2 L238.6 480.5 L242.5 483.8 L246.3 487.0 L250.2 490.1 L254.1 493.2 L254.0 493.3" fill="none" stroke="#707070" stroke-width="1.2" stroke-linejoin="round" stroke-linecap="round" stroke-dasharray="6.5 5.3"/>
<rect x="84.2" y="411.5" width="8.4" height="8.4" fill="#22acb2"/>
<rect x="99.8" y="408.3" width="8.4" height="8.4" fill="#22acb2"/>
<rect x="115.4" y="415.9" width="8.4" height="8.4" fill="#22acb2"/>
<rect x="130.6" y="420.2" width="8.4" height="8.4" fill="#22acb2"/>
<rect x="146.4" y="422.4" width="8.4" height="8.4" fill="#22acb2"/>
<rect x="161.8" y="411.5" width="8.4" height="8.4" fill="#22acb2"/>
<rect x="177.4" y="418.5" width="8.4" height="8.4" fill="#22acb2"/>
<rect x="192.5" y="435.4" width="8.4" height="8.4" fill="#22acb2"/>
<rect x="215.7" y="442.3" width="8.4" height="8.4" fill="#22acb2"/>
<rect x="238.9" y="494.7" width="8.4" height="8.4" fill="#22acb2"/>
<circle cx="88.4" cy="414.9" r="4.4" fill="#2646aa"/>
<circle cx="104.0" cy="414.4" r="4.4" fill="#2646aa"/>
<circle cx="119.6" cy="422.2" r="4.4" fill="#2646aa"/>
<circle cx="134.8" cy="424.2" r="4.4" fill="#2646aa"/>
<circle cx="150.6" cy="424.0" r="4.4" fill="#2646aa"/>
<circle cx="166.0" cy="417.5" r="4.4" fill="#2646aa"/>
<circle cx="181.6" cy="425.3" r="4.4" fill="#2646aa"/>
<circle cx="196.7" cy="441.1" r="4.4" fill="#2646aa"/>
<circle cx="219.9" cy="446.5" r="4.4" fill="#2646aa"/>
<circle cx="243.1" cy="497.9" r="4.4" fill="#2646aa"/>
<text x="136.90" y="498.10" font-size="14.4" text-anchor="start" fill="#1c1c1c" stroke="#1c1c1c" stroke-width="0.32"><tspan font-style="italic">μ</tspan></text>
<text x="154.50" y="498.10" font-size="13" text-anchor="middle" fill="#1c1c1c" font-family="'Liberation Sans', 'DejaVu Sans', sans-serif">∝</text>
<text x="164.00" y="498.10" font-size="14.4" text-anchor="start" fill="#1c1c1c" stroke="#1c1c1c" stroke-width="0.32"><tspan font-style="italic">T</tspan><tspan dy="-5.04" font-size="9.65">−1.69</tspan></text>
<circle cx="91.7" cy="610.2" r="5.6" fill="#2646aa"/>
<rect x="86.3" y="626.4" width="10.8" height="10.8" fill="#3a9aa0"/>
<text x="104.00" y="614.90" font-size="14.4" text-anchor="start" fill="#1c1c1c" stroke="#1c1c1c" stroke-width="0.32"><tspan>Four-terminal</tspan></text>
<text x="104.00" y="637.30" font-size="14.4" text-anchor="start" fill="#1c1c1c" stroke="#1c1c1c" stroke-width="0.32"><tspan>Two-terminal</tspan></text>
</g>
<g id="pf">
<rect x="333.10" y="380.75" width="194.40" height="304.50" fill="none" stroke="#1c1c1c" stroke-width="1.05"/>
<path d="M333.10 685.25v6.3M357.40 685.25v6.3M381.70 685.25v6.3M406.00 685.25v6.3M430.30 685.25v6.3M454.60 685.25v6.3M478.90 685.25v6.3M503.20 685.25v6.3M527.50 685.25v6.3M345.25 685.25v3.2M369.55 685.25v3.2M393.85 685.25v3.2M418.15 685.25v3.2M442.45 685.25v3.2M466.75 685.25v3.2M491.05 685.25v3.2M515.35 685.25v3.2" stroke="#1c1c1c" stroke-width="1" fill="none"/>
<path d="M333.10 379.75v2.2M357.40 379.75v2.2M381.70 379.75v2.2M406.00 379.75v2.2M430.30 379.75v2.2M454.60 379.75v2.2M478.90 379.75v2.2M503.20 379.75v2.2M527.50 379.75v2.2M345.25 379.95v1.8M369.55 379.95v1.8M393.85 379.95v1.8M418.15 379.95v1.8M442.45 379.95v1.8M466.75 379.95v1.8M491.05 379.95v1.8M515.35 379.95v1.8" stroke="#1c1c1c" stroke-width="0.75" fill="none"/>
<text x="333.10" y="709.25" font-size="14.0" text-anchor="middle" fill="#1c1c1c" stroke="#1c1c1c" stroke-width="0.32"><tspan>2</tspan></text>
<text x="357.40" y="709.25" font-size="14.0" text-anchor="middle" fill="#1c1c1c" stroke="#1c1c1c" stroke-width="0.32"><tspan>3</tspan></text>
<text x="381.70" y="709.25" font-size="14.0" text-anchor="middle" fill="#1c1c1c" stroke="#1c1c1c" stroke-width="0.32"><tspan>4</tspan></text>
<text x="406.00" y="709.25" font-size="14.0" text-anchor="middle" fill="#1c1c1c" stroke="#1c1c1c" stroke-width="0.32"><tspan>5</tspan></text>
<text x="430.30" y="709.25" font-size="14.0" text-anchor="middle" fill="#1c1c1c" stroke="#1c1c1c" stroke-width="0.32"><tspan>6</tspan></text>
<text x="454.60" y="709.25" font-size="14.0" text-anchor="middle" fill="#1c1c1c" stroke="#1c1c1c" stroke-width="0.32"><tspan>7</tspan></text>
<text x="478.90" y="709.25" font-size="14.0" text-anchor="middle" fill="#1c1c1c" stroke="#1c1c1c" stroke-width="0.32"><tspan>8</tspan></text>
<text x="503.20" y="709.25" font-size="14.0" text-anchor="middle" fill="#1c1c1c" stroke="#1c1c1c" stroke-width="0.32"><tspan>9</tspan></text>
<text x="527.50" y="709.25" font-size="14.0" text-anchor="middle" fill="#1c1c1c" stroke="#1c1c1c" stroke-width="0.32"><tspan>10</tspan></text>
<path d="M333.10 685.25h-6.3M333.10 624.35h-6.3M333.10 563.45h-6.3M333.10 502.55h-6.3M333.10 441.65h-6.3M333.10 380.75h-6.3M333.10 654.80h-3.2M333.10 593.90h-3.2M333.10 533.00h-3.2M333.10 472.10h-3.2M333.10 411.20h-3.2" stroke="#1c1c1c" stroke-width="1" fill="none"/>
<path d="M526.30 685.25h2.2M526.30 624.35h2.2M526.30 563.45h2.2M526.30 502.55h2.2M526.30 441.65h2.2M526.30 380.75h2.2M526.50 654.80h1.8M526.50 593.90h1.8M526.50 533.00h1.8M526.50 472.10h1.8M526.50 411.20h1.8" stroke="#1c1c1c" stroke-width="0.75" fill="none"/>
<text x="325.10" y="690.25" font-size="14.0" text-anchor="end" fill="#1c1c1c" stroke="#1c1c1c" stroke-width="0.32"><tspan>−24</tspan></text>
<text x="325.10" y="629.35" font-size="14.0" text-anchor="end" fill="#1c1c1c" stroke="#1c1c1c" stroke-width="0.32"><tspan>−22</tspan></text>
<text x="325.10" y="568.45" font-size="14.0" text-anchor="end" fill="#1c1c1c" stroke="#1c1c1c" stroke-width="0.32"><tspan>−20</tspan></text>
<text x="325.10" y="507.55" font-size="14.0" text-anchor="end" fill="#1c1c1c" stroke="#1c1c1c" stroke-width="0.32"><tspan>−18</tspan></text>
<text x="325.10" y="446.65" font-size="14.0" text-anchor="end" fill="#1c1c1c" stroke="#1c1c1c" stroke-width="0.32"><tspan>−16</tspan></text>
<text x="325.10" y="385.75" font-size="14.0" text-anchor="end" fill="#1c1c1c" stroke="#1c1c1c" stroke-width="0.32"><tspan>−14</tspan></text>
<text x="430.50" y="726.50" font-size="14.2" text-anchor="middle" fill="#1c1c1c" stroke="#1c1c1c" stroke-width="0.32"><tspan>1,000/</tspan><tspan font-style="italic">T</tspan><tspan> (K</tspan><tspan dy="-4.97" font-size="9.51">−1</tspan><tspan dy="4.97">)</tspan></text>
<text x="292.50" y="534.30" font-size="14.2" text-anchor="middle" fill="#1c1c1c" stroke="#1c1c1c" stroke-width="0.32" transform="rotate(-90 292.50 534.30)"><tspan>ln(</tspan><tspan font-style="italic">I</tspan><tspan dy="4.83" font-size="10.08">DS</tspan><tspan dy="-4.83">/</tspan><tspan font-style="italic">T</tspan><tspan dy="-4.97" font-size="9.51">1.5</tspan><tspan dy="4.97">)</tspan></text>
<text x="279.0" y="386.5" font-size="17" font-weight="bold" fill="#111" stroke="#111" stroke-width="0.5">f</text>
<line x1="353.40" y1="501.80" x2="431.80" y2="408.60" stroke="#5a8ae0" stroke-width="1.3" stroke-dasharray="3.4 3"/>
<line x1="405.80" y1="424.40" x2="523.90" y2="424.40" stroke="#5a8ae0" stroke-width="1.3" stroke-dasharray="3.4 3"/>
<circle cx="365.8" cy="484.4" r="4.3" fill="#2058c8"/>
<circle cx="385.7" cy="462.1" r="4.3" fill="#2058c8"/>
<circle cx="400.4" cy="444.8" r="4.3" fill="#2058c8"/>
<circle cx="419.5" cy="438.5" r="4.3" fill="#2058c8"/>
<circle cx="446.4" cy="429.6" r="4.3" fill="#2058c8"/>
<circle cx="486.7" cy="423.8" r="4.3" fill="#2058c8"/>
<circle cx="505.1" cy="423.1" r="4.3" fill="#2058c8"/>
<rect x="361.7" y="597.0" width="8.2" height="8.2" fill="#d21e50"/>
<rect x="374.0" y="602.4" width="8.2" height="8.2" fill="#d21e50"/>
<rect x="381.8" y="605.4" width="8.2" height="8.2" fill="#d21e50"/>
<rect x="401.7" y="613.7" width="8.2" height="8.2" fill="#d21e50"/>
<rect x="415.2" y="618.0" width="8.2" height="8.2" fill="#d21e50"/>
<rect x="453.7" y="629.5" width="8.2" height="8.2" fill="#d21e50"/>
<rect x="482.8" y="641.8" width="8.2" height="8.2" fill="#d21e50"/>
<line x1="350.20" y1="594.40" x2="507.70" y2="654.60" stroke="#b82c48" stroke-width="1.3" stroke-dasharray="3.4 3"/>
<text x="441.60" y="412.30" font-size="14.4" text-anchor="start" fill="#1c1c1c" stroke="#1c1c1c" stroke-width="0.32"><tspan font-style="italic" font-family="'Liberation Serif', serif" font-weight="bold" stroke="none">Φ</tspan><tspan dy="4.90" font-size="10.22">B</tspan><tspan dy="-4.90"> = 0 meV</tspan></text>
<text x="470.60" y="460.60" font-size="14.4" text-anchor="middle" fill="#1c1c1c" stroke="#1c1c1c" stroke-width="0.32" letter-spacing="-0.15"><tspan>Bi–MoS</tspan><tspan dy="4.90" font-size="10.22">2</tspan><tspan dy="-4.90"> FET</tspan></text>
<text x="470.60" y="477.90" font-size="14.4" text-anchor="middle" fill="#1c1c1c" stroke="#1c1c1c" stroke-width="0.32"><tspan>Ohmic</tspan></text>
<text x="465.20" y="592.80" font-size="14.4" text-anchor="middle" fill="#1c1c1c" stroke="#1c1c1c" stroke-width="0.32" letter-spacing="-0.15"><tspan>Ni–MoS</tspan><tspan dy="4.90" font-size="10.22">2</tspan><tspan dy="-4.90"> FET</tspan></text>
<text x="464.80" y="610.20" font-size="14.4" text-anchor="middle" fill="#1c1c1c" stroke="#1c1c1c" stroke-width="0.32"><tspan>Schottky</tspan></text>
<text x="357.70" y="651.30" font-size="14.4" text-anchor="start" fill="#1c1c1c" stroke="#1c1c1c" stroke-width="0.32"><tspan font-style="italic" font-family="'Liberation Serif', serif" font-weight="bold" stroke="none">Φ</tspan><tspan dy="4.90" font-size="10.22">B</tspan><tspan dy="-4.90"> = 30 meV</tspan></text>
</g>
<g id="pg">
<rect x="596.25" y="380.25" width="194.25" height="305.00" fill="none" stroke="#1c1c1c" stroke-width="1.05"/>
<path d="M615.70 685.25v6.3M654.40 685.25v6.3M693.10 685.25v6.3M731.80 685.25v6.3M770.50 685.25v6.3M596.35 685.25v3.2M635.05 685.25v3.2M673.75 685.25v3.2M712.45 685.25v3.2M751.15 685.25v3.2M789.85 685.25v3.2" stroke="#1c1c1c" stroke-width="1" fill="none"/>
<path d="M615.70 379.25v2.2M654.40 379.25v2.2M693.10 379.25v2.2M731.80 379.25v2.2M770.50 379.25v2.2M596.35 379.45v1.8M635.05 379.45v1.8M673.75 379.45v1.8M712.45 379.45v1.8M751.15 379.45v1.8M789.85 379.45v1.8" stroke="#1c1c1c" stroke-width="0.75" fill="none"/>
<text x="615.70" y="709.25" font-size="14.0" text-anchor="middle" fill="#1c1c1c" stroke="#1c1c1c" stroke-width="0.32"><tspan>−1.0</tspan></text>
<text x="654.40" y="709.25" font-size="14.0" text-anchor="middle" fill="#1c1c1c" stroke="#1c1c1c" stroke-width="0.32"><tspan>−0.5</tspan></text>
<text x="693.10" y="709.25" font-size="14.0" text-anchor="middle" fill="#1c1c1c" stroke="#1c1c1c" stroke-width="0.32"><tspan>0.0</tspan></text>
<text x="731.80" y="709.25" font-size="14.0" text-anchor="middle" fill="#1c1c1c" stroke="#1c1c1c" stroke-width="0.32"><tspan>0.5</tspan></text>
<text x="770.50" y="709.25" font-size="14.0" text-anchor="middle" fill="#1c1c1c" stroke="#1c1c1c" stroke-width="0.32"><tspan>1.0</tspan></text>
<path d="M596.25 663.16h-6.3M596.25 619.64h-6.3M596.25 576.12h-6.3M596.25 532.60h-6.3M596.25 489.08h-6.3M596.25 445.56h-6.3M596.25 402.04h-6.3M596.25 684.92h-3.2M596.25 641.40h-3.2M596.25 597.88h-3.2M596.25 554.36h-3.2M596.25 510.84h-3.2M596.25 467.32h-3.2M596.25 423.80h-3.2M596.25 380.28h-3.2" stroke="#1c1c1c" stroke-width="1" fill="none"/>
<path d="M789.30 663.16h2.2M789.30 619.64h2.2M789.30 576.12h2.2M789.30 532.60h2.2M789.30 489.08h2.2M789.30 445.56h2.2M789.30 402.04h2.2M789.50 684.92h1.8M789.50 641.40h1.8M789.50 597.88h1.8M789.50 554.36h1.8M789.50 510.84h1.8M789.50 467.32h1.8M789.50 423.80h1.8M789.50 380.28h1.8" stroke="#1c1c1c" stroke-width="0.75" fill="none"/>
<text x="588.25" y="668.16" font-size="14.0" text-anchor="end" fill="#1c1c1c" stroke="#1c1c1c" stroke-width="0.32"><tspan>−30</tspan></text>
<text x="588.25" y="624.64" font-size="14.0" text-anchor="end" fill="#1c1c1c" stroke="#1c1c1c" stroke-width="0.32"><tspan>−20</tspan></text>
<text x="588.25" y="581.12" font-size="14.0" text-anchor="end" fill="#1c1c1c" stroke="#1c1c1c" stroke-width="0.32"><tspan>−10</tspan></text>
<text x="588.25" y="537.60" font-size="14.0" text-anchor="end" fill="#1c1c1c" stroke="#1c1c1c" stroke-width="0.32"><tspan>0</tspan></text>
<text x="588.25" y="494.08" font-size="14.0" text-anchor="end" fill="#1c1c1c" stroke="#1c1c1c" stroke-width="0.32"><tspan>10</tspan></text>
<text x="588.25" y="450.56" font-size="14.0" text-anchor="end" fill="#1c1c1c" stroke="#1c1c1c" stroke-width="0.32"><tspan>20</tspan></text>
<text x="588.25" y="407.04" font-size="14.0" text-anchor="end" fill="#1c1c1c" stroke="#1c1c1c" stroke-width="0.32"><tspan>30</tspan></text>
<text x="693.00" y="726.50" font-size="14.2" text-anchor="middle" fill="#1c1c1c" stroke="#1c1c1c" stroke-width="0.32"><tspan>Drain voltage (V)</tspan></text>
<text x="553.50" y="533.00" font-size="14.2" text-anchor="middle" fill="#1c1c1c" stroke="#1c1c1c" stroke-width="0.32" transform="rotate(-90 553.50 533.00)"><tspan>Drain current (µA µm</tspan><tspan dy="-4.97" font-size="9.51">−1</tspan><tspan dy="4.97">)</tspan></text>
<text x="541.0" y="386.5" font-size="17" font-weight="bold" fill="#111" stroke="#111" stroke-width="0.5">g</text>
<path d="M615.7 666.2 L770.5 400.7" fill="none" stroke="#4270c2" stroke-width="1.35" stroke-linejoin="round" stroke-linecap="round"/>
<path d="M616.0 554.5 C618.9 553.1 626.8 549.0 633.3 546.2 C639.8 543.5 647.8 540.4 655.0 538.2 C662.2 536.0 670.2 534.4 676.7 533.2 C683.2 532.1 688.6 531.7 694.0 531.3 C699.4 530.9 703.1 531.2 709.2 530.6 C715.3 530.0 723.6 529.5 730.8 527.6 C738.0 525.7 745.9 522.5 752.5 519.1 C759.1 515.7 767.5 509.2 770.5 507.2" fill="none" stroke="#dc405e" stroke-width="1.35" stroke-linejoin="round" stroke-linecap="round"/>
<text x="603.40" y="402.70" font-size="14.4" text-anchor="start" fill="#3c50b4" stroke="#3c50b4" stroke-width="0.32" letter-spacing="-0.15"><tspan>Bi–MoS</tspan><tspan dy="4.90" font-size="10.22">2</tspan><tspan dy="-4.90"> FET</tspan></text>
<text x="603.40" y="422.20" font-size="14.4" text-anchor="start" fill="#c03c50" stroke="#c03c50" stroke-width="0.32" letter-spacing="-0.15"><tspan>Ni–MoS</tspan><tspan dy="4.90" font-size="10.22">2</tspan><tspan dy="-4.90"> FET</tspan></text>
<text x="685.30" y="460.60" font-size="14.4" text-anchor="start" fill="#1c1c1c" stroke="#1c1c1c" stroke-width="0.32"><tspan>Ohmic</tspan></text>
<text x="707.00" y="545.60" font-size="14.4" text-anchor="start" fill="#1c1c1c" stroke="#1c1c1c" stroke-width="0.32"><tspan>Schottky</tspan></text>
<text x="701.00" y="650.30" font-size="14.4" text-anchor="start" fill="#1c1c1c" stroke="#1c1c1c" stroke-width="0.32"><tspan font-style="italic">T</tspan><tspan> = 77K</tspan></text>
<text x="641.60" y="673.00" font-size="14.4" text-anchor="start" fill="#1c1c1c" stroke="#1c1c1c" stroke-width="0.32"><tspan font-style="italic">n</tspan><tspan dy="4.90" font-size="10.22">2D</tspan><tspan dy="-4.90"> = 4.3 </tspan><tspan font-size="17.28">×</tspan><tspan> 10</tspan><tspan dy="-5.04" font-size="9.65">12</tspan><tspan dy="5.04"> cm</tspan><tspan dy="-5.04" font-size="9.65">−2</tspan></text>
</g>
<g id="ph">
<rect x="861.70" y="380.70" width="195.00" height="304.70" fill="none" stroke="#1c1c1c" stroke-width="1.05"/>
<path d="M862.20 685.40v6.3M897.36 685.40v6.3M932.52 685.40v6.3M967.68 685.40v6.3M1002.84 685.40v6.3M1038.00 685.40v6.3M879.78 685.40v3.2M914.94 685.40v3.2M950.10 685.40v3.2M985.26 685.40v3.2M1020.42 685.40v3.2M1055.58 685.40v3.2" stroke="#1c1c1c" stroke-width="1" fill="none"/>
<path d="M862.20 379.70v2.2M897.36 379.70v2.2M932.52 379.70v2.2M967.68 379.70v2.2M1002.84 379.70v2.2M1038.00 379.70v2.2M879.78 379.90v1.8M914.94 379.90v1.8M950.10 379.90v1.8M985.26 379.90v1.8M1020.42 379.90v1.8M1055.58 379.90v1.8" stroke="#1c1c1c" stroke-width="0.75" fill="none"/>
<text x="862.20" y="709.40" font-size="14.0" text-anchor="middle" fill="#1c1c1c" stroke="#1c1c1c" stroke-width="0.32"><tspan>50</tspan></text>
<text x="897.36" y="709.40" font-size="14.0" text-anchor="middle" fill="#1c1c1c" stroke="#1c1c1c" stroke-width="0.32"><tspan>100</tspan></text>
<text x="932.52" y="709.40" font-size="14.0" text-anchor="middle" fill="#1c1c1c" stroke="#1c1c1c" stroke-width="0.32"><tspan>150</tspan></text>
<text x="967.68" y="709.40" font-size="14.0" text-anchor="middle" fill="#1c1c1c" stroke="#1c1c1c" stroke-width="0.32"><tspan>200</tspan></text>
<text x="1002.84" y="709.40" font-size="14.0" text-anchor="middle" fill="#1c1c1c" stroke="#1c1c1c" stroke-width="0.32"><tspan>250</tspan></text>
<text x="1038.00" y="709.40" font-size="14.0" text-anchor="middle" fill="#1c1c1c" stroke="#1c1c1c" stroke-width="0.32"><tspan>300</tspan></text>
<path d="M861.70 673.00h-6.3M861.70 614.54h-6.3M861.70 556.08h-6.3M861.70 497.62h-6.3M861.70 439.16h-6.3M861.70 380.70h-6.3M861.70 643.77h-3.2M861.70 585.31h-3.2M861.70 526.85h-3.2M861.70 468.39h-3.2M861.70 409.93h-3.2" stroke="#1c1c1c" stroke-width="1" fill="none"/>
<path d="M1055.50 673.00h2.2M1055.50 614.54h2.2M1055.50 556.08h2.2M1055.50 497.62h2.2M1055.50 439.16h2.2M1055.50 380.70h2.2M1055.70 643.77h1.8M1055.70 585.31h1.8M1055.70 526.85h1.8M1055.70 468.39h1.8M1055.70 409.93h1.8" stroke="#1c1c1c" stroke-width="0.75" fill="none"/>
<text x="853.70" y="678.00" font-size="14.0" text-anchor="end" fill="#1c1c1c" stroke="#1c1c1c" stroke-width="0.32"><tspan>0</tspan></text>
<text x="853.70" y="619.54" font-size="14.0" text-anchor="end" fill="#1c1c1c" stroke="#1c1c1c" stroke-width="0.32"><tspan>1</tspan></text>
<text x="853.70" y="561.08" font-size="14.0" text-anchor="end" fill="#1c1c1c" stroke="#1c1c1c" stroke-width="0.32"><tspan>2</tspan></text>
<text x="853.70" y="502.62" font-size="14.0" text-anchor="end" fill="#1c1c1c" stroke="#1c1c1c" stroke-width="0.32"><tspan>3</tspan></text>
<text x="853.70" y="444.16" font-size="14.0" text-anchor="end" fill="#1c1c1c" stroke="#1c1c1c" stroke-width="0.32"><tspan>4</tspan></text>
<text x="853.70" y="385.70" font-size="14.0" text-anchor="end" fill="#1c1c1c" stroke="#1c1c1c" stroke-width="0.32"><tspan>5</tspan></text>
<text x="958.50" y="726.50" font-size="14.2" text-anchor="middle" fill="#1c1c1c" stroke="#1c1c1c" stroke-width="0.32"><tspan>Temperature (K)</tspan></text>
<text x="822.00" y="532.80" font-size="14.2" text-anchor="middle" fill="#1c1c1c" stroke="#1c1c1c" stroke-width="0.32" transform="rotate(-90 822.00 532.80)"><tspan>Nonlinearity, </tspan><tspan font-style="italic">N</tspan></text>
<text x="808.5" y="386.5" font-size="17" font-weight="bold" fill="#111" stroke="#111" stroke-width="0.5">h</text>
<line x1="880.60" y1="428.10" x2="1036.50" y2="626.50" stroke="#2d9c78" stroke-width="1.3" stroke-dasharray="3.4 3"/>
<line x1="873.00" y1="527.30" x2="1035.50" y2="657.50" stroke="#b43246" stroke-width="1.3" stroke-dasharray="3.4 3"/>
<line x1="863.70" y1="673.40" x2="1050.00" y2="673.40" stroke="#3558c8" stroke-width="1.3" stroke-dasharray="6 4.5"/>
<path d="M885.9 426.6 L895.6 426.6 L890.8 417.8 Z" fill="#2d8c6e"/>
<path d="M876.5 441.4 L886.2 441.4 L881.4 432.6 Z" fill="#2d8c6e"/>
<path d="M899.9 473.9 L909.6 473.9 L904.8 465.1 Z" fill="#2d8c6e"/>
<path d="M906.9 487.2 L916.6 487.2 L911.8 478.5 Z" fill="#2d8c6e"/>
<path d="M928.1 512.9 L937.9 512.9 L933.0 504.1 Z" fill="#2d8c6e"/>
<path d="M893.0 517.6 L902.8 517.6 L897.9 508.9 Z" fill="#2d8c6e"/>
<path d="M949.1 557.1 L958.9 557.1 L954.0 548.4 Z" fill="#2d8c6e"/>
<path d="M969.9 573.8 L979.6 573.8 L974.8 565.0 Z" fill="#2d8c6e"/>
<path d="M991.4 555.0 L1001.1 555.0 L996.3 546.2 Z" fill="#2d8c6e"/>
<path d="M1012.2 577.6 L1022.0 577.6 L1017.1 568.9 Z" fill="#2d8c6e"/>
<path d="M1033.2 629.2 L1042.9 629.2 L1038.1 620.5 Z" fill="#2d8c6e"/>
<rect x="877.9" y="514.9" width="7.0" height="7.0" fill="#d21e50"/>
<rect x="887.3" y="509.5" width="7.0" height="7.0" fill="#d21e50"/>
<rect x="908.3" y="544.9" width="7.0" height="7.0" fill="#d21e50"/>
<rect x="901.3" y="553.2" width="7.0" height="7.0" fill="#d21e50"/>
<rect x="894.2" y="568.8" width="7.0" height="7.0" fill="#d21e50"/>
<rect x="950.5" y="586.5" width="7.0" height="7.0" fill="#d21e50"/>
<rect x="929.5" y="609.9" width="7.0" height="7.0" fill="#d21e50"/>
<rect x="992.8" y="614.2" width="7.0" height="7.0" fill="#d21e50"/>
<rect x="1013.6" y="621.4" width="7.0" height="7.0" fill="#d21e50"/>
<rect x="971.3" y="637.0" width="7.0" height="7.0" fill="#d21e50"/>
<rect x="1034.6" y="655.9" width="7.0" height="7.0" fill="#d21e50"/>
<circle cx="881.4" cy="671.3" r="3.7" fill="#2058c8"/>
<circle cx="890.8" cy="677.8" r="3.7" fill="#2058c8"/>
<circle cx="897.7" cy="670.8" r="3.7" fill="#2058c8"/>
<circle cx="904.8" cy="673.7" r="3.7" fill="#2058c8"/>
<circle cx="911.8" cy="673.2" r="3.7" fill="#2058c8"/>
<circle cx="933.0" cy="671.5" r="3.7" fill="#2058c8"/>
<circle cx="954.0" cy="669.8" r="3.7" fill="#2058c8"/>
<circle cx="974.8" cy="677.8" r="3.7" fill="#2058c8"/>
<circle cx="996.3" cy="675.8" r="3.7" fill="#2058c8"/>
<circle cx="1017.1" cy="673.0" r="3.7" fill="#2058c8"/>
<circle cx="1038.1" cy="671.9" r="3.7" fill="#2058c8"/>
<text x="872.30" y="399.30" font-size="14.4" text-anchor="start" fill="#1c1c1c" stroke="#1c1c1c" stroke-width="0.32"><tspan font-style="italic">V</tspan><tspan dy="4.90" font-size="10.22">DS</tspan><tspan dy="-4.90"> = 0.1 V</tspan></text>
<text x="945.60" y="490.90" font-size="14.4" text-anchor="start" fill="#3c963c" stroke="#3c963c" stroke-width="0.32"><tspan>Ti</tspan></text>
<text x="918.90" y="592.40" font-size="14.4" text-anchor="start" fill="#c81e3c" stroke="#c81e3c" stroke-width="0.32"><tspan>Ni</tspan></text>
<text x="889.20" y="656.80" font-size="14.4" text-anchor="start" fill="#3250be" stroke="#3250be" stroke-width="0.32"><tspan>Bi</tspan></text>
</g>
<g id="wm" opacity="0.66">
<path d="M695 677.3 C702.9 677.3 709.2 681.9 709.2 687.6 C709.2 693.3 702.9 697.9 695 697.9 C693.3 697.9 691.7 697.7 690.2 697.3 L685.6 699.8 L686.8 695.9 C683.2 694 680.8 691 680.8 687.6 C680.8 681.9 687.1 677.3 695 677.3 Z" fill="#8a8a8a"/>
<circle cx="690.2" cy="684.3" r="1.5" fill="#fff"/><circle cx="699.6" cy="684.3" r="1.5" fill="#fff"/>
<path d="M710.8 688.1 C716.8 688.1 721.7 692.4 721.7 697.7 C721.7 700.7 720.1 703.4 717.6 705.1 L718.6 708.6 L714.7 706.6 C713.5 707 712.2 707.2 710.8 707.2 C704.8 707.2 699.9 702.9 699.9 697.7 C699.9 692.4 704.8 688.1 710.8 688.1 Z" fill="#9c9c9c" stroke="#fff" stroke-width="1.4"/>
<circle cx="707.0" cy="695.6" r="1.25" fill="#fff"/><circle cx="714.4" cy="695.6" r="1.25" fill="#fff"/>
<circle cx="833.3" cy="694.2" r="1.7" fill="#8e8e8e"/>
<text x="851.4" y="704.2" font-size="28.6" letter-spacing="2.1" fill="#8e8e8e">Xfilm</text>
<g fill="#8e8e8e">
<text x="730.5 758.3 790.6" y="704.2" font-size="28.6" fill="#8e8e8e" font-family="'Liberation Sans', 'Noto Sans CJK SC', sans-serif">公众号</text>
<text x="926.5 954.7 984.5 1016.8" y="704.2" font-size="28.6" fill="#8e8e8e" font-family="'Liberation Sans', 'Noto Sans CJK SC', sans-serif">电阻测试</text>
</g>
</g>
</svg>
</body></html>
